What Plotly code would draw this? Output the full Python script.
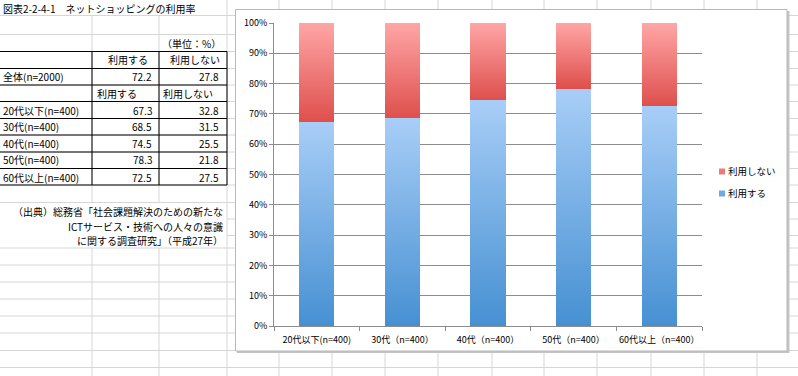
import plotly.graph_objects as go

W, H = 798, 376

# ---------------- data ----------------
categories = ["20代以下(n=400)", "30代（n=400）", "40代（n=400）", "50代（n=400）", "60代以上（n=400）"]
table_labels = ["20代以下(n=400)", "30代(n=400)", "40代(n=400)", "50代(n=400)", "60代以上(n=400)"]
use_values = [67.3, 68.5, 74.5, 78.3, 72.5]
nouse_values = [32.8, 31.5, 25.5, 21.8, 27.5]
total_label = "全体(n=2000)"
total_use = 72.2
total_nouse = 27.8
series_names = ["利用する", "利用しない"]
title_text = "図表2-2-4-1　ネットショッピングの利用率"
unit_text = "（単位：%）"
source_lines = ["（出典）総務省「社会課題解決のための新たな",
                "ICTサービス・技術への人々の意識",
                "に関する調査研究」（平成27年）"]

FONT = "Noto Sans CJK JP"
BLUE = "#6FA8E4"
RED = "#F07877"


def px(x):
    return x / W


def py(y):
    return 1 - y / H


shapes = []
GRID = "#D6D6D6"


def hline(x0, x1, y, color=GRID, w=1):
    shapes.append(dict(type="line", xref="paper", yref="paper", x0=px(x0), x1=px(x1),
                       y0=py(y), y1=py(y), line=dict(color=color, width=w), layer="below"))


def vline(x, y0, y1, color=GRID, w=1):
    shapes.append(dict(type="line", xref="paper", yref="paper", x0=px(x), x1=px(x),
                       y0=py(y0), y1=py(y1), line=dict(color=color, width=w), layer="below"))


# spreadsheet grid
rows_left = [15.5, 34.5, 51.5, 68.5, 85, 101.5, 118.5, 135, 152, 168.5, 185, 202.5,
             248, 265, 282, 299, 316, 333, 350.5, 367.5]
for y in rows_left:
    hline(0, W, y)
for y in [219, 235.5]:
    hline(227, W, y)
cols = [92, 159, 227, 279, 332, 385, 438, 492, 544, 597, 651, 704, 757]
for x in cols:
    if x in (92, 159):
        vline(x, 15.5, 202.5)
        vline(x, 248, H)
    else:
        vline(x, 0, H)

# table borders
for y in [51.5, 68.5, 85, 101.5, 118.5, 135, 152, 168.5, 185]:
    hline(0, 227, y, color="#000000")
for x in [92, 159, 227]:
    vline(x, 51.5, 185, color="#000000")

# chart box with shadow
shapes.append(dict(type="rect", xref="paper", yref="paper", x0=px(237), x1=px(789.5),
                   y0=py(353), y1=py(11), fillcolor="#C4C4C4", line=dict(width=0), layer="below"))
shapes.append(dict(type="rect", xref="paper", yref="paper", x0=px(235.5), x1=px(787),
                   y0=py(351), y1=py(9.5), fillcolor="#FFFFFF",
                   line=dict(color="#B8B8B8", width=1), layer="below"))

# ---------------- annotations (table text) ----------------
ann = []


def txt(x, y, s, anchor="left", size=10, yanchor="middle"):
    ann.append(dict(x=px(x), y=py(y), xref="paper", yref="paper", text=s, showarrow=False,
                    xanchor=anchor, yanchor=yanchor, align=anchor, borderpad=0,
                    font=dict(family=FONT, size=size, color="#000")))


txt(2, 8, title_text)
txt(222, 43, unit_text, "right")
txt(149, 60, series_names[0], "right")
txt(221, 60, series_names[1], "right")
txt(2, 77, total_label)
txt(153, 77, f"{total_use:.1f}", "right")
txt(220, 77, f"{total_nouse:.1f}", "right")
txt(96, 93, series_names[0])
txt(162, 93, series_names[1])
row_y = [110, 127, 143.5, 160, 177]
for lab, u, n, y in zip(table_labels, use_values, nouse_values, row_y):
    txt(2, y, lab)
    txt(153, y, f"{u:.1f}", "right")
    txt(220, y, f"{n:.1f}", "right")
for s, y in zip(source_lines, [211.5, 226, 240.5]):
    txt(224, y, s, "right")

# ---------------- chart ----------------
fig = go.Figure()
fig.add_trace(go.Bar(x=categories, y=use_values, name=series_names[0], marker=dict(color=BLUE, line=dict(width=0)),
                     showlegend=False))
fig.add_trace(go.Bar(x=categories, y=nouse_values, name=series_names[1], marker=dict(color=RED, line=dict(width=0)),
                     showlegend=False))
# legend entries (small square keys), 利用しない on top
fig.add_trace(go.Scatter(x=[None], y=[None], mode="markers", name=series_names[1], legendgroup="b",
                         marker=dict(symbol="square", size=6, color=RED)))
fig.add_trace(go.Scatter(x=[None], y=[None], mode="markers", name=series_names[0], legendgroup="a",
                         marker=dict(symbol="square", size=6, color=BLUE)))

AX = "#8C8C8C"
fig.update_layout(
    width=W, height=H, autosize=False,
    margin=dict(l=0, r=0, t=0, b=0, pad=0, autoexpand=False),
    paper_bgcolor="#FFFFFF", plot_bgcolor="rgba(0,0,0,0)",
    barmode="stack", bargap=0.59,
    font=dict(family=FONT, size=9, color="#000"),
    shapes=shapes, annotations=ann,
    xaxis=dict(domain=[px(274), px(702)], type="category", showline=True, linecolor=AX,
               ticks="outside", tickson="boundaries", ticklen=4, tickcolor=AX, showgrid=False,
               tickangle=0, tickfont=dict(size=9), fixedrange=True, automargin=False,
               ticklabelstandoff=5),
    yaxis=dict(domain=[py(326), py(23)], range=[0, 100], dtick=10, ticksuffix="%",
               showgrid=True, gridcolor=AX, gridwidth=1, showline=True, linecolor=AX,
               ticks="outside", ticklen=4, tickcolor=AX, zeroline=False,
               tickfont=dict(size=9), fixedrange=True, automargin=False),
    legend=dict(x=px(688), y=py(157), xanchor="left", yanchor="top", bgcolor="rgba(0,0,0,0)",
                font=dict(size=9.5), traceorder="grouped", itemsizing="trace", tracegroupgap=3),
)

post_script = """
(function(){
document.documentElement.style.margin = '0';
document.documentElement.style.padding = '0';
document.body.style.margin = '0';
document.body.style.padding = '0';
document.body.style.overflow = 'hidden';
var gd = document.getElementById('{plot_id}');
gd.style.position = 'absolute'; gd.style.left = '0px'; gd.style.top = '0px';
var NS = 'http://www.w3.org/2000/svg';
function mk(id, c1, c2){
  var g = document.createElementNS(NS, 'linearGradient');
  g.setAttribute('id', id); g.setAttribute('x1','0'); g.setAttribute('y1','0');
  g.setAttribute('x2','0'); g.setAttribute('y2','1');
  var s1 = document.createElementNS(NS,'stop'); s1.setAttribute('offset','0'); s1.setAttribute('stop-color', c1);
  var s2 = document.createElementNS(NS,'stop'); s2.setAttribute('offset','1'); s2.setAttribute('stop-color', c2);
  g.appendChild(s1); g.appendChild(s2); return g;
}
function apply(){
  var svg = gd.querySelector('svg.main-svg'); if(!svg) return;
  var defs = svg.querySelector('defs');
  if(!defs){ defs = document.createElementNS(NS,'defs'); svg.insertBefore(defs, svg.firstChild); }
  if(!document.getElementById('gBlue')){
    defs.appendChild(mk('gBlue', '#A8CEF7', '#4690D2'));
    defs.appendChild(mk('gRed', '#FFA6A6', '#DE4F4C'));
  }
  var traces = gd.querySelectorAll('.barlayer .trace');
  traces.forEach(function(t, i){
    t.querySelectorAll('path').forEach(function(p){ p.style.fill = (i === 0) ? 'url(#gBlue)' : 'url(#gRed)'; });
  });
  gd.querySelectorAll('.legend .legendpoints').forEach(function(g){ g.setAttribute('transform', 'translate(14,0)'); });
}
apply();
gd.on && gd.on('plotly_afterplot', apply);
})();
"""

fig.write_html("out.html", post_script=post_script, config={"displayModeBar": False, "staticPlot": True})
